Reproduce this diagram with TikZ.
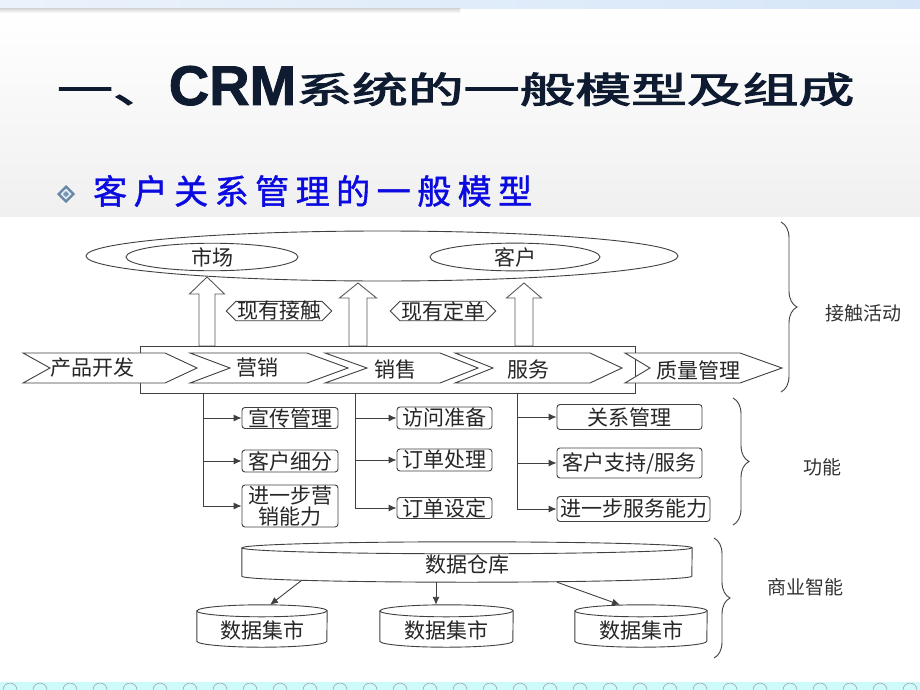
\documentclass[tikz,border=0pt]{standalone}
\usepackage{graphicx}
\usepackage{fontspec}
\setmainfont{Liberation Sans}
\newfontfamily\cjk{Noto Sans CJK SC}
\newfontfamily\cjktitle[FakeBold=2.5]{Noto Sans CJK SC}
\newfontfamily\cjksub[FakeBold=1.2]{Noto Sans CJK SC}
\newfontfamily\crmfont[FakeBold=1.5]{Liberation Sans}
\usetikzlibrary{shapes.geometric,shapes.symbols,arrows.meta,decorations.pathreplacing,calc}
\definecolor{navy}{RGB}{14,27,48}
\definecolor{subblue}{RGB}{10,10,225}
\definecolor{bandblue}{RGB}{214,230,248}
\definecolor{bandcyan}{RGB}{205,250,250}
\definecolor{dia1}{RGB}{105,135,165}
\definecolor{dia2}{RGB}{225,235,245}
\definecolor{dia3}{RGB}{120,150,180}
\newcommand\titletext{\raisebox{2pt}{\cjktitle\fontsize{36}{36}\selectfont\scalebox{1.55}[1]{一、}}{\crmfont\bfseries\fontsize{56}{56}\selectfont CRM}\raisebox{2pt}{\cjktitle\fontsize{36}{36}\selectfont\scalebox{1.55}[1]{系统的一般模型及组成}}}
\newcommand\subtext{\cjksub\fontsize{34}{34}\selectfont 客\hspace{6.5pt}户\hspace{6.5pt}关\hspace{6.5pt}系\hspace{6.5pt}管\hspace{6.5pt}理\hspace{6.5pt}的\hspace{6.5pt}一\hspace{6.5pt}般\hspace{6.5pt}模\hspace{6.5pt}型}
\newcommand\blockup[6]{%
  \filldraw[fill=white,draw=black!65,line width=0.9pt] (#1-#2,-#6) -- (#1-#2,-#5) -- (#1-#3,-#5) -- (#1,-#4) -- (#1+#3,-#5) -- (#1+#2,-#5) -- (#1+#2,-#6) -- cycle;}
\newcommand\chev[4]{%
  \filldraw[fill=white,draw=black!75,line width=0.9pt] (#1,-353) -- (#3,-353) -- (#4,-368) -- (#3,-383) -- (#1,-383) -- (#2,-368) -- cycle;}
\newcommand\cyl[3]{%
  \filldraw[fill=white,draw=black!75,line width=0.9pt] (#1.north west) -- (#1.south west) arc[start angle=180,end angle=360,x radius=#2,y radius=#3] -- (#1.north east) arc[start angle=0,end angle=180,x radius=#2,y radius=#3] -- cycle;
  \draw[draw=black!75,line width=0.9pt] (#1.north west) arc[start angle=180,end angle=360,x radius=#2,y radius=#3];}
\tikzset{
  ln/.style={draw=black!75,line width=0.9pt},
  lbl/.style={font=\cjk\fontsize{21}{21}\selectfont,text=black!85,inner sep=0pt},
  fbox/.style={lbl,ln,rounded corners=3pt,minimum height=22pt},
  arr/.style={ln,-{Latex[length=8pt,width=7pt]}},
  brc/.style={ln,decorate,decoration={brace,amplitude=16pt}},
  side/.style={font=\cjk\fontsize{19}{19}\selectfont,text=black!80,inner sep=0pt},
  holder/.style={minimum height=#1,inner sep=0pt}
}
\begin{document}
\begin{tikzpicture}[x=1pt,y=1pt]
\useasboundingbox (0,0) rectangle (920,-690);
% backgrounds
\fill[white] (0,0) rectangle (920,-690);
\shade[top color=white,bottom color=black!6] (0,-10) rectangle (920,-216);
\shade[left color=bandblue!50,right color=bandblue] (0,0) rectangle (920,-9);
\shade[top color=black!14,bottom color=white] (0,-9) rectangle (460,-13);
\fill[bandcyan] (0,-682) rectangle (920,-690);
\foreach \i in {0,...,30} {
  \draw[black!40,line width=0.5pt] (\i*30+3,-690) arc[start angle=180,end angle=0,radius=7pt];
}
% title
\node[anchor=base west,text=navy,inner sep=0pt] (title) at (57,-105) {\titletext};
% bullet
\fill[dia1] (66,-185) -- (75,-194) -- (66,-203) -- (57,-194) -- cycle;
\fill[dia2] (66,-188.5) -- (71.5,-194) -- (66,-199.5) -- (60.5,-194) -- cycle;
\fill[dia3] (66,-191) -- (69,-194) -- (66,-197) -- (63,-194) -- cycle;
\node[anchor=base west,text=subblue,inner sep=0pt] (subtitle) at (93,-204) {\subtext};
% top ellipses
\node[ellipse,ln,minimum width=592pt,minimum height=50pt,inner sep=0pt] (outer) at (382,-256) {};
\node[ellipse,ln,lbl,minimum width=172pt,minimum height=27pt] (mkt) at (212,-257) {市场};
\node[ellipse,ln,lbl,minimum width=170pt,minimum height=27pt] (cust) at (515,-257) {客户};
% block arrows
\blockup{207}{8}{17.5}{277}{294}{346}
\blockup{358}{9}{18.5}{283}{298}{346}
\blockup{524}{9}{17.5}{283}{298}{346}
% contact labels
\node[signal,signal to=east and west,ln,lbl,inner xsep=1pt,minimum height=19pt] (contact) at (279,-311) {现有接触};
\node[signal,signal to=east and west,ln,lbl,inner xsep=1pt,minimum height=19pt] (orders) at (443,-311) {现有定单};
% process bar
\node[ln,minimum width=495pt,minimum height=47pt,inner sep=0pt] (proc) at (387.5,-369.5) {};
\chev{23}{50}{165}{197}
\chev{190}{230}{307}{348}
\chev{325}{367}{440}{478}
\chev{455}{493}{590}{622}
\chev{625}{650}{740}{782}
\node[lbl] (p1) at (92,-368) {产品开发};
\node[lbl] (p2) at (257,-368) {营销};
\node[lbl] (p3) at (395,-370) {销售};
\node[lbl] (p4) at (528,-370) {服务};
\node[lbl] (p5) at (698,-370) {质量管理};
% function boxes
\node[fbox,minimum width=96pt,minimum height=21pt] (b11) at (290,-418) {宣传管理};
\node[fbox,minimum width=96pt] (b12) at (290,-461) {客户细分};
\node[fbox,minimum width=96pt,minimum height=42pt,align=center] (b13) at (290,-506) {进一步营\\销能力};
\node[fbox,minimum width=95pt] (b21) at (444.5,-418) {访问准备};
\node[fbox,minimum width=95pt] (b22) at (444.5,-460) {订单处理};
\node[fbox,minimum width=95pt,minimum height=21pt] (b23) at (444.5,-508) {订单设定};
\node[fbox,minimum width=145pt,minimum height=25pt] (b31) at (629.5,-417) {关系管理};
\node[fbox,minimum width=145pt,minimum height=30pt] (b32) at (629.5,-463) {客户支持/服务};
\node[fbox,minimum width=153pt,minimum height=25pt] (b33) at (633.5,-509) {进一步服务能力};
\coordinate (k1) at (203,-393);
\coordinate (k2) at (355,-393);
\coordinate (k3) at (517,-393);
\draw[arr] (k1) |- (b13.west);
\draw[arr] (k1 |- b11.west) -- (b11.west);
\draw[arr] (k1 |- b12.west) -- (b12.west);
\draw[arr] (k2) |- (b23.west);
\draw[arr] (k2 |- b21.west) -- (b21.west);
\draw[arr] (k2 |- b22.west) -- (b22.west);
\draw[arr] (k3) |- (b33.west);
\draw[arr] (k3 |- b31.west) -- (b31.west);
\draw[arr] (k3 |- b32.west) -- (b32.west);
% data warehouse
\node[holder=28pt,minimum width=450pt] (dw) at (467,-562) {};
\cyl{dw}{225pt}{6pt}
\node[lbl] (dwt) at ([yshift=-3pt]dw.center) {数据仓库};
\node[holder=30pt,minimum width=130pt] (m1) at (262,-626) {};
\node[holder=30pt,minimum width=133pt] (m2) at (446.5,-626) {};
\node[holder=30pt,minimum width=132pt] (m3) at (641,-626) {};
\cyl{m1}{65pt}{6pt}
\cyl{m2}{66.5pt}{6pt}
\cyl{m3}{66pt}{6pt}
\node[lbl] (m1t) at ([yshift=-4pt]m1.center) {数据集市};
\node[lbl] (m2t) at ([yshift=-4pt]m2.center) {数据集市};
\node[lbl] (m3t) at ([yshift=-4pt]m3.center) {数据集市};
\draw[arr] ([xshift=60pt,yshift=-4pt]dw.south west) -- ([xshift=8pt,yshift=6pt]m1.north);
\draw[arr] ([xshift=-31pt,yshift=-6pt]dw.south) -- ([xshift=-10.5pt,yshift=6pt]m2.north);
\draw[arr] ([xshift=90pt,yshift=-6pt]dw.south) -- ([xshift=-21pt,yshift=6pt]m3.north);
% braces
\draw[brc] (781,-222) -- (781,-392);
\draw[brc] (733,-398) -- (733,-525);
\draw[brc] (714,-538) -- (714,-658);
\node[side] (s1) at (863,-313) {接触活动};
\node[side] (s2) at (822,-467) {功能};
\node[side] (s3) at (805,-587) {商业智能};
\end{tikzpicture}
\end{document}
